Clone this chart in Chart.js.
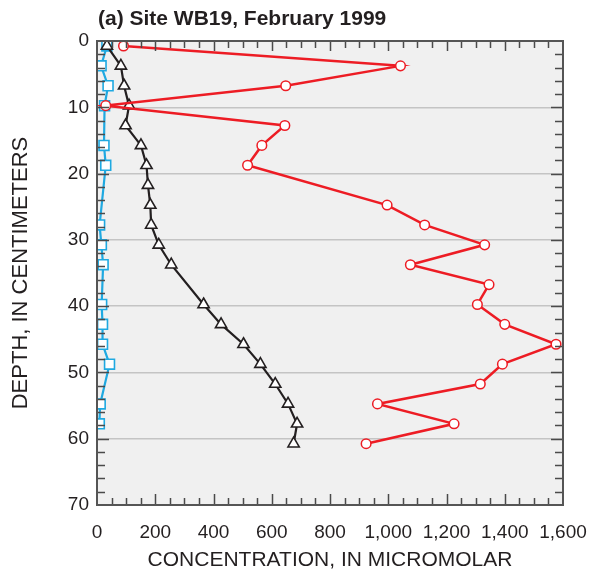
<!DOCTYPE html>
<html>
<head>
<meta charset="utf-8">
<script src="https://cdn.jsdelivr.net/npm/chart.js@4"></script>
<style>
  html, body { margin: 0; padding: 0; background: #fff; }
  canvas { display: block; }
</style>
</head>
<body>
<canvas id="c" width="590" height="575"></canvas>
<script>
// ─── DATA ──────────────────────────────────────────────────────────
const redDepth   = [0.75, 3.75, 6.75, 9.75, 12.75, 15.75, 18.75, 24.75, 27.75, 30.75, 33.75, 36.75, 39.75, 42.75, 45.75, 48.75, 51.75, 54.75, 57.75, 60.75];
const redConc    = [91, 1042, 648, 30, 645, 566, 517, 996, 1125, 1331, 1076, 1346, 1306, 1400, 1576, 1392, 1316, 963, 1226, 924];

const blackDepth = [0.75, 3.75, 6.75, 9.75, 12.75, 15.75, 18.75, 21.75, 24.75, 27.75, 30.75, 33.75, 39.75, 42.75, 45.75, 48.75, 51.75, 54.75, 57.75, 60.75];
const blackConc  = [34, 82, 93, 110, 98, 151, 170, 175, 183, 186, 212, 255, 366, 426, 503, 561, 612, 656, 687, 675];

const blueDepth  = [0.75, 3.75, 6.75, 9.75, 15.75, 18.75, 27.75, 30.75, 33.75, 39.75, 42.75, 45.75, 48.75, 54.75, 57.75];
const blueConc   = [34, 14, 38, 26, 24, 30, 9, 15, 21, 16, 19, 19, 43, 11, 8];

const xTicks = [0, 200, 400, 600, 800, 1000, 1200, 1400, 1600];
const yTicks = [0, 10, 20, 30, 40, 50, 60, 70];

const titleText = '(a) Site WB19, February 1999';
const xTitle = 'CONCENTRATION, IN MICROMOLAR';
const yTitle = 'DEPTH, IN CENTIMETERS';

const FONT = '"Liberation Sans", Arial, Helvetica, sans-serif';
const INK = '#231f20';

const pts = (xs, ys) => xs.map((v, i) => ({ x: v, y: ys[i] }));

// ── frame: background, box, inward ticks, titles ─────────────────
const framePlugin = {
  id: 'frame',
  beforeDraw(chart) {
    const { ctx, chartArea: { left, right, top, bottom } } = chart;
    ctx.save();
    ctx.fillStyle = '#f0f0f0';
    ctx.fillRect(left, top, right - left, bottom - top);
    ctx.restore();
  },
  afterDatasetsDraw(chart) {
    const { ctx, chartArea: { left, right, top, bottom }, scales: { x, y } } = chart;
    ctx.save();
    ctx.strokeStyle = '#4a4a4a';
    ctx.lineWidth = 1.5;
    ctx.beginPath();
    for (let v = 50; v < 1600; v += 50) {
      const px = Math.round(x.getPixelForValue(v)) + 0.5;
      const major = v % 200 === 0;
      ctx.moveTo(px, top); ctx.lineTo(px, top + (major ? 10 : 7));
      ctx.moveTo(px, bottom); ctx.lineTo(px, bottom - (major ? 11 : 7));
    }
    for (let v = 2; v < 70; v += 2) {
      const py = Math.round(y.getPixelForValue(v)) + 0.5;
      const major = v % 10 === 0;
      ctx.moveTo(left, py); ctx.lineTo(left + (major ? 12 : 8), py);
      ctx.moveTo(right, py); ctx.lineTo(right - (major ? 12 : 8), py);
    }
    ctx.stroke();
    ctx.lineWidth = 2;
    ctx.strokeStyle = '#555';
    ctx.strokeRect(left, top, right - left, bottom - top);
    ctx.restore();
  },
  afterDraw(chart) {
    const { ctx, chartArea: { left, right, top, bottom } } = chart;
    ctx.save();
    ctx.fillStyle = INK;
    ctx.textBaseline = 'alphabetic';
    ctx.textAlign = 'left';
    ctx.font = 'bold 21px ' + FONT;
    ctx.fillText(titleText, left + 1, 25);

    ctx.font = '21px ' + FONT;
    ctx.textAlign = 'center';
    ctx.textBaseline = 'middle';
    ctx.fillText(xTitle, (left + right) / 2, 560);

    ctx.font = '22px ' + FONT;
    ctx.translate(21, (top + bottom) / 2);
    ctx.rotate(-Math.PI / 2);
    ctx.fillText(yTitle, 0, 0);
    ctx.restore();
  },
};

new Chart(document.getElementById('c'), {
  type: 'scatter',
  data: {
    datasets: [
      {
        label: 'red',
        data: pts(redConc, redDepth),
        showLine: true,
        borderColor: '#ed1c24',
        borderWidth: 2.5,
        pointStyle: 'circle',
        pointRadius: 4.8,
        pointBackgroundColor: '#fff',
        pointBorderColor: '#ed1c24',
        pointBorderWidth: 1.5,
      },
      {
        label: 'black',
        data: pts(blackConc, blackDepth),
        showLine: true,
        borderColor: INK,
        borderWidth: 2.2,
        pointStyle: 'triangle',
        pointRadius: 6.5,
        pointBackgroundColor: '#fff',
        pointBorderColor: INK,
        pointBorderWidth: 1.6,
      },
      {
        label: 'blue',
        data: pts(blueConc, blueDepth),
        showLine: true,
        borderColor: '#1fa9e1',
        borderWidth: 2.2,
        pointStyle: 'rect',
        pointRadius: 7,
        pointBackgroundColor: '#fff',
        pointBorderColor: '#1fa9e1',
        pointBorderWidth: 1.6,
      },
    ],
  },
  options: {
    responsive: false,
    animation: false,
    layout: { padding: { top: 41, right: 27, left: 0, bottom: 0 } },
    plugins: { legend: { display: false }, tooltip: { enabled: false } },
    scales: {
      x: {
        type: 'linear',
        min: 0, max: 1600,
        afterFit: s => { s.height = 70; s.paddingLeft = 0; s.paddingRight = 0; },
        afterBuildTicks: s => { s.ticks = xTicks.map(v => ({ value: v })); },
        ticks: {
          color: INK,
          font: { family: FONT, size: 19 },
          padding: 8,
          maxRotation: 0,
          autoSkip: false,
          callback: v => v.toLocaleString('en-US'),
        },
        grid: { display: false },
        border: { display: false },
      },
      y: {
        type: 'linear',
        reverse: true,
        min: 0, max: 70,
        afterFit: s => { s.width = 97; s.paddingTop = 0; s.paddingBottom = 0; },
        afterBuildTicks: s => { s.ticks = yTicks.map(v => ({ value: v })); },
        ticks: {
          color: INK,
          font: { family: FONT, size: 19 },
          padding: 8,
          autoSkip: false,
        },
        grid: {
          drawTicks: false,
          lineWidth: 1.5,
          color: ctx => (ctx.tick && (ctx.tick.value === 0 || ctx.tick.value === 70)) ? 'rgba(0,0,0,0)' : '#c4c4c4',
        },
        border: { display: false },
      },
    },
  },
  plugins: [framePlugin],
});
</script>
</body>
</html>
